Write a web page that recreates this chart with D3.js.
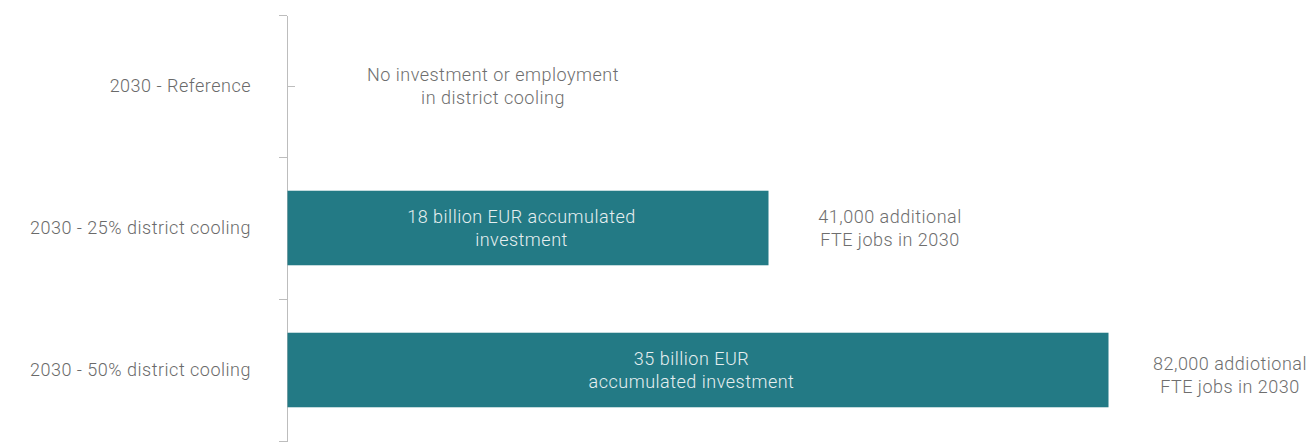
<!DOCTYPE html>
<meta charset="utf-8">
<style>

body {
  margin: 0;
  background: #fff;
}

text {
  font-family: Roboto, "Helvetica Neue", sans-serif;
  font-weight: 300;
  font-size: 18px;
  letter-spacing: 0.5px;
}

.axis path,
.axis line,
.boundary {
  stroke: #bdbdbd;
  shape-rendering: crispEdges;
}

.axis text {
  fill: #6a6a6a;
}

.bar {
  fill: #237a85;
}

.label--inside {
  fill: #e6eff0;
  text-anchor: middle;
}

.label--outside {
  fill: #6e6e6e;
  text-anchor: middle;
}

</style>
<svg width="1307" height="443"></svg>
<script src="https://cdn.jsdelivr.net/npm/d3@7"></script>
<script>

// scenarios, bar length (no x axis is shown)
var categories = ["2030 - Reference", "2030 - 25% district cooling", "2030 - 50% district cooling"],
    barLength = [0, 48.1, 82.1],
    insideLabels = [
      ["No investment or employment", "in district cooling"],
      ["18 billion EUR accumulated", "investment"],
      ["35 billion EUR", "accumulated investment"]
    ],
    jobLabels = [
      [],
      ["41,000 additional", "FTE jobs in 2030"],
      ["82,000 addiotional", "FTE jobs in 2030"]
    ];

var svg = d3.select("svg"),
    margin = {top: 15, right: 20, bottom: 2, left: 287},
    width = +svg.attr("width") - margin.left - margin.right,
    height = +svg.attr("height") - margin.top - margin.bottom;

var x = d3.scaleLinear()
    .domain([0, 100])
    .range([0, 1000]);

var y = d3.scaleBand()
    .domain(categories)
    .range([0, height])
    .paddingInner(0.475)
    .paddingOuter(0.2375);

var g = svg.append("g")
    .attr("transform", "translate(" + margin.left + "," + margin.top + ")");

g.append("g")
    .attr("class", "axis")
    .call(d3.axisLeft(y).tickSize(-8).tickSizeOuter(0).tickPadding(36))
    .call(function(a) { a.selectAll("text").attr("font-size", null).attr("font-family", null); });

// ticks on the band boundaries point left
g.selectAll(".boundary")
    .data(d3.range(categories.length + 1))
  .enter().append("line")
    .attr("class", "boundary")
    .attr("x1", -8)
    .attr("x2", 0)
    .attr("y1", function(i) { return Math.round(i * height / categories.length) + 0.5; })
    .attr("y2", function(i) { return Math.round(i * height / categories.length) + 0.5; });

var row = g.selectAll(".row")
    .data(categories)
  .enter().append("g")
    .attr("class", "row")
    .attr("transform", function(d) { return "translate(0," + (y(d) + y.bandwidth() / 2) + ")"; });

row.append("rect")
    .attr("class", "bar")
    .attr("x", 0.5)
    .attr("y", -y.bandwidth() / 2)
    .attr("width", function(d, i) { return x(barLength[i]); })
    .attr("height", y.bandwidth());

row.append("text")
    .attr("class", function(d, i) { return barLength[i] > 0 ? "label--inside" : "label--outside"; })
    .attr("x", function(d, i) { return barLength[i] > 0 ? x(barLength[i]) / 2 - 6 : 206; })
    .selectAll("tspan")
    .data(function(d, i) { return insideLabels[i]; })
  .enter().append("tspan")
    .attr("x", function() { return this.parentNode.getAttribute("x"); })
    .attr("dy", function(d, j) { return j ? "23" : "-5"; })
    .text(function(d) { return d; });

row.append("text")
    .attr("class", "label--outside")
    .attr("x", function(d, i) { return x(barLength[i]) + 122; })
    .attr("y", function(d, i) { return i === 2 ? 5 : 0; })
    .selectAll("tspan")
    .data(function(d, i) { return jobLabels[i]; })
  .enter().append("tspan")
    .attr("x", function() { return this.parentNode.getAttribute("x"); })
    .attr("dy", function(d, j) { return j ? "23" : "-5"; })
    .text(function(d) { return d; });

</script>
